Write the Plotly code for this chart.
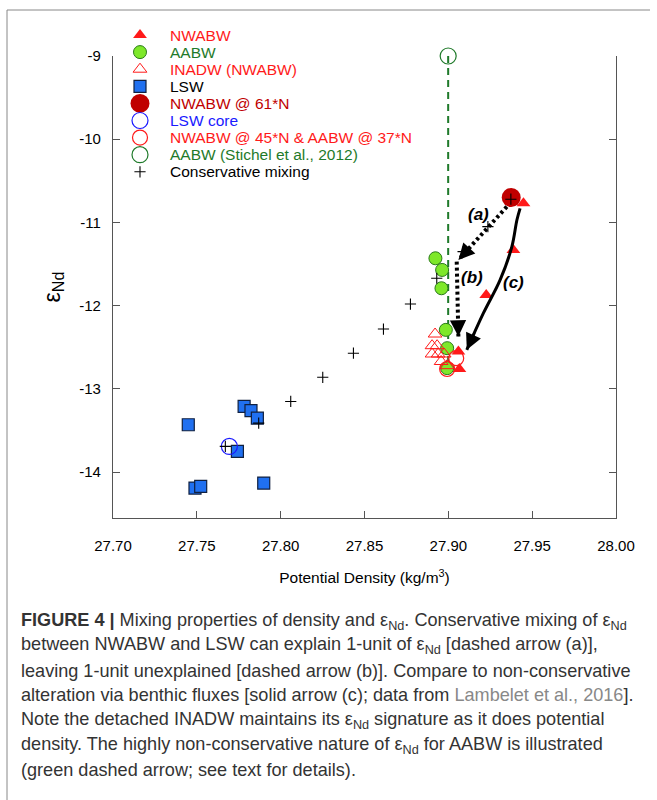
import plotly.graph_objects as go

# ---------------- data ----------------
nwabw_x = [27.9448, 27.9388, 27.9226, 27.9060, 27.9066]
nwabw_y = [-10.77, -11.33, -11.87, -12.55, -12.76]

aabw_x = [27.8923, 27.8963, 27.8959, 27.8985, 27.8993, 27.8993]
aabw_y = [-11.43, -11.57, -11.79, -12.29, -12.51, -12.75]

inadw_x = [27.8921, 27.8903, 27.8933, 27.8903, 27.8939, 27.8957, 27.8993, 27.8975]
inadw_y = [-12.34, -12.48, -12.48, -12.58, -12.58, -12.67, -12.72, -12.58]

lsw_x = [27.7782, 27.7823, 27.7861, 27.7449, 27.7742, 27.7489, 27.7523, 27.7899]
lsw_y = [-13.21, -13.26, -13.35, -13.43, -13.75, -14.19, -14.17, -14.13]

nwabw61_x = [27.9375]
nwabw61_y = [-10.70]

lswcore_x = [27.7694]
lswcore_y = [-13.69]

nwabw45_x = [27.9047, 27.8993]
nwabw45_y = [-12.63, -12.76]

stichel_x = [27.8999]
stichel_y = [-9.0]

mix_x = [27.7670, 27.7869, 27.8060, 27.8251, 27.8434, 27.8613, 27.8774,
         27.8931, 27.9088, 27.9236, 27.9373]
mix_y = [-13.69, -13.41, -13.15, -12.86, -12.57, -12.28, -11.98,
         -11.67, -11.35, -11.05, -10.72]

# arrows (data coordinates)
arrow_a_x = [27.9349, 27.9060]
arrow_a_y = [-10.81, -11.45]
arrow_b_x = [27.9050, 27.9060]
arrow_b_y = [-11.47, -12.37]
arrow_c_x = [27.9428, 27.9409, 27.9379, 27.9309, 27.9209, 27.9110]
arrow_c_y = [-10.83, -10.97, -11.29, -11.69, -12.09, -12.53]

x_ticks = [27.70, 27.75, 27.80, 27.85, 27.90, 27.95, 28.00]
y_ticks = [-9, -10, -11, -12, -13, -14]

legend_names = ["NWABW", "AABW", "INADW (NWABW)", "LSW", "NWABW @ 61*N", "LSW core",
                "NWABW @ 45*N &amp; AABW @ 37*N", "AABW (Stichel et al., 2012)",
                "Conservative mixing"]

RED = "#ff1a1a"
DKRED = "#c00000"
GREEN_TXT = "#1f7a2a"
BLUE = "#1a1aff"
FONT = "Liberation Sans, Arial, sans-serif"

styles = [
    dict(symbol="triangle-up", size=12, color=RED, line=dict(width=0)),
    dict(symbol="circle", size=13, color="#7ee82a", line=dict(width=1, color="#2a7a1a")),
    dict(symbol="triangle-up-open", size=12, color=RED, line=dict(width=1)),
    dict(symbol="square", size=12, color="#2070f0", line=dict(width=1.2, color="#102040")),
    dict(symbol="circle", size=19, color=DKRED, line=dict(width=0)),
    dict(symbol="circle-open", size=16, color=BLUE, line=dict(width=1.2)),
    dict(symbol="circle-open", size=15, color=RED, line=dict(width=1.2)),
    dict(symbol="circle-open", size=16, color="#1f7a2a", line=dict(width=1.2)),
    dict(symbol="cross-thin", size=8, color="black", line=dict(width=1.1, color="black")),
]
text_colors = [RED, GREEN_TXT, RED, "#000000", DKRED, BLUE, RED, GREEN_TXT, "#000000"]

series = [(nwabw_x, nwabw_y), (aabw_x, aabw_y), (inadw_x, inadw_y), (lsw_x, lsw_y),
          (nwabw61_x, nwabw61_y), (lswcore_x, lswcore_y), (nwabw45_x, nwabw45_y),
          (stichel_x, stichel_y), (mix_x, mix_y)]

# layout geometry (pixels)
L, R_EDGE = 113, 616
PLOT_TOP, PLOT_BOT = 56, 518
FIG_TOP = 10
PW = R_EDGE - L
PH_ALL = PLOT_BOT - FIG_TOP


def py2paper(py):
    return (PLOT_BOT - py) / PH_ALL


def px2paper(px):
    return (px - L) / PW


fig = go.Figure()

# green dashed AABW arrow line
fig.add_trace(go.Scatter(x=[stichel_x[0], stichel_x[0]], y=[stichel_y[0], min(aabw_y)],
                         mode="lines", line=dict(color="#1f7a2a", width=2, dash="7px,5px"),
                         showlegend=False, hoverinfo="skip", cliponaxis=False))

for (xs, ys), st, nm in zip(series, styles, legend_names):
    fig.add_trace(go.Scatter(x=xs, y=ys, mode="markers", name=nm, marker=st,
                             showlegend=False, cliponaxis=False))

# arrow bodies
fig.add_trace(go.Scatter(x=arrow_a_x, y=arrow_a_y, mode="lines",
                         line=dict(color="black", width=4, dash="3px,3px"),
                         showlegend=False, hoverinfo="skip"))
fig.add_trace(go.Scatter(x=arrow_b_x, y=arrow_b_y, mode="lines",
                         line=dict(color="black", width=4, dash="3px,3px"),
                         showlegend=False, hoverinfo="skip"))
fig.add_trace(go.Scatter(x=arrow_c_x, y=arrow_c_y, mode="lines",
                         line=dict(color="black", width=3, shape="spline"),
                         showlegend=False, hoverinfo="skip"))

# manual legend on a pixel-space helper subplot
LEG_X, LEG_TEXT_X, LEG_Y0, LEG_DY = 140, 168, 35, 17.1
for i, (st, nm) in enumerate(zip(styles, legend_names)):
    fig.add_trace(go.Scatter(x=[LEG_X], y=[LEG_Y0 + i * LEG_DY], xaxis="x2", yaxis="y2",
                             mode="markers", marker=st, showlegend=False,
                             hoverinfo="skip", cliponaxis=False))


def head(xs, ys):
    x1, y1 = xs[-1], ys[-1]
    x0, y0 = xs[-2], ys[-2]
    f = 0.12 if len(xs) == 2 else 0.5
    return dict(x=x1, y=y1, ax=x1 + (x0 - x1) * f, ay=y1 + (y0 - y1) * f,
                xref="x", yref="y", axref="x", ayref="y", showarrow=True,
                arrowhead=2, arrowsize=1.3, arrowwidth=2.5, arrowcolor="black",
                standoff=0, text="")


annotations = [head(arrow_a_x, arrow_a_y), head(arrow_b_x, arrow_b_y),
               head(arrow_c_x, arrow_c_y)]

for t, x, y in [("(a)", 27.9178, -10.91), ("(b)", 27.9142, -11.665),
                ("(c)", 27.9387, -11.725)]:
    annotations.append(dict(x=x, y=y, xref="x", yref="y", showarrow=False,
                            text=f"<b><i>{t}</i></b>",
                            font=dict(family=FONT, size=17, color="black")))

for i, (nm, col) in enumerate(zip(legend_names, text_colors)):
    annotations.append(dict(x=LEG_TEXT_X, y=LEG_Y0 + i * LEG_DY, xref="x2", yref="y2",
                            xanchor="left", yanchor="middle", showarrow=False, text=nm,
                            font=dict(family=FONT, size=15.5, color=col)))

caption = [
    "<b>FIGURE 4 |</b> Mixing properties of density and ε<sub>Nd</sub>. Conservative mixing of ε<sub>Nd</sub>",
    "between NWABW and LSW can explain 1-unit of ε<sub>Nd</sub> [dashed arrow (a)],",
    "leaving 1-unit unexplained [dashed arrow (b)]. Compare to non-conservative",
    'alteration via benthic fluxes [solid arrow (c); data from <span style="color:#888888">Lambelet et al., 2016</span>].',
    "Note the detached INADW maintains its ε<sub>Nd</sub> signature as it does potential",
    "density. The highly non-conservative nature of ε<sub>Nd</sub> for AABW is illustrated",
    "(green dashed arrow; see text for details).",
]
for i, line in enumerate(caption):
    py = 621 + i * 24.8
    annotations.append(dict(x=px2paper(19), y=py2paper(py), xref="paper", yref="paper",
                            xanchor="left", yanchor="middle", showarrow=False, text=line,
                            align="left", font=dict(family=FONT, size=18.1, color="#333333")))

shapes = [
    dict(type="line", xref="paper", yref="paper", x0=px2paper(7), x1=px2paper(7),
         y0=py2paper(10), y1=py2paper(800), line=dict(color="#888888", width=1)),
    dict(type="line", xref="paper", yref="paper", x0=px2paper(7), x1=px2paper(650),
         y0=py2paper(10), y1=py2paper(10), line=dict(color="#888888", width=1)),
]

fig.update_layout(
    width=657, height=800,
    margin=dict(l=L, r=657 - R_EDGE, t=FIG_TOP, b=800 - PLOT_BOT, autoexpand=False),
    paper_bgcolor="white", plot_bgcolor="rgba(0,0,0,0)",
    font=dict(family=FONT, size=15, color="black"),
    showlegend=False,
    xaxis=dict(domain=[0, 1], range=[27.70, 28.00], tickvals=x_ticks,
               ticktext=[f"{v:.2f}" for v in x_ticks], automargin=False,
               showgrid=False, zeroline=False, showline=True, linecolor="#555555", linewidth=1.2,
               ticks="inside", ticklen=7, tickcolor="#555555", tickfont=dict(size=15),
               ticklabelstandoff=14,
               title=dict(text="Potential Density (kg/m<sup>3</sup>)", font=dict(size=15.5),
                          standoff=19)),
    yaxis=dict(domain=[0, (PLOT_BOT - PLOT_TOP) / PH_ALL], range=[-14.55, -9.0],
               tickvals=y_ticks, ticktext=[str(v) for v in y_ticks], automargin=False,
               showgrid=False, zeroline=False, showline=True, linecolor="#555555", linewidth=1.2,
               mirror="ticks", ticks="inside", ticklen=7, tickcolor="#555555",
               tickfont=dict(size=15), ticklabelstandoff=8,
               title=dict(text="ε<sub>Nd</sub>", font=dict(size=23), standoff=12)),
    xaxis2=dict(domain=[0, 1], range=[L, R_EDGE], visible=False, anchor="y2",
                showticklabels=False, automargin=False),
    yaxis2=dict(domain=[0, 1], range=[PLOT_BOT, FIG_TOP], visible=False, anchor="x2",
                showticklabels=False, automargin=False),
    annotations=annotations,
    shapes=shapes,
)

fig.write_html("out.html", config={"displayModeBar": False},
               post_script="document.body.style.margin='0';")
